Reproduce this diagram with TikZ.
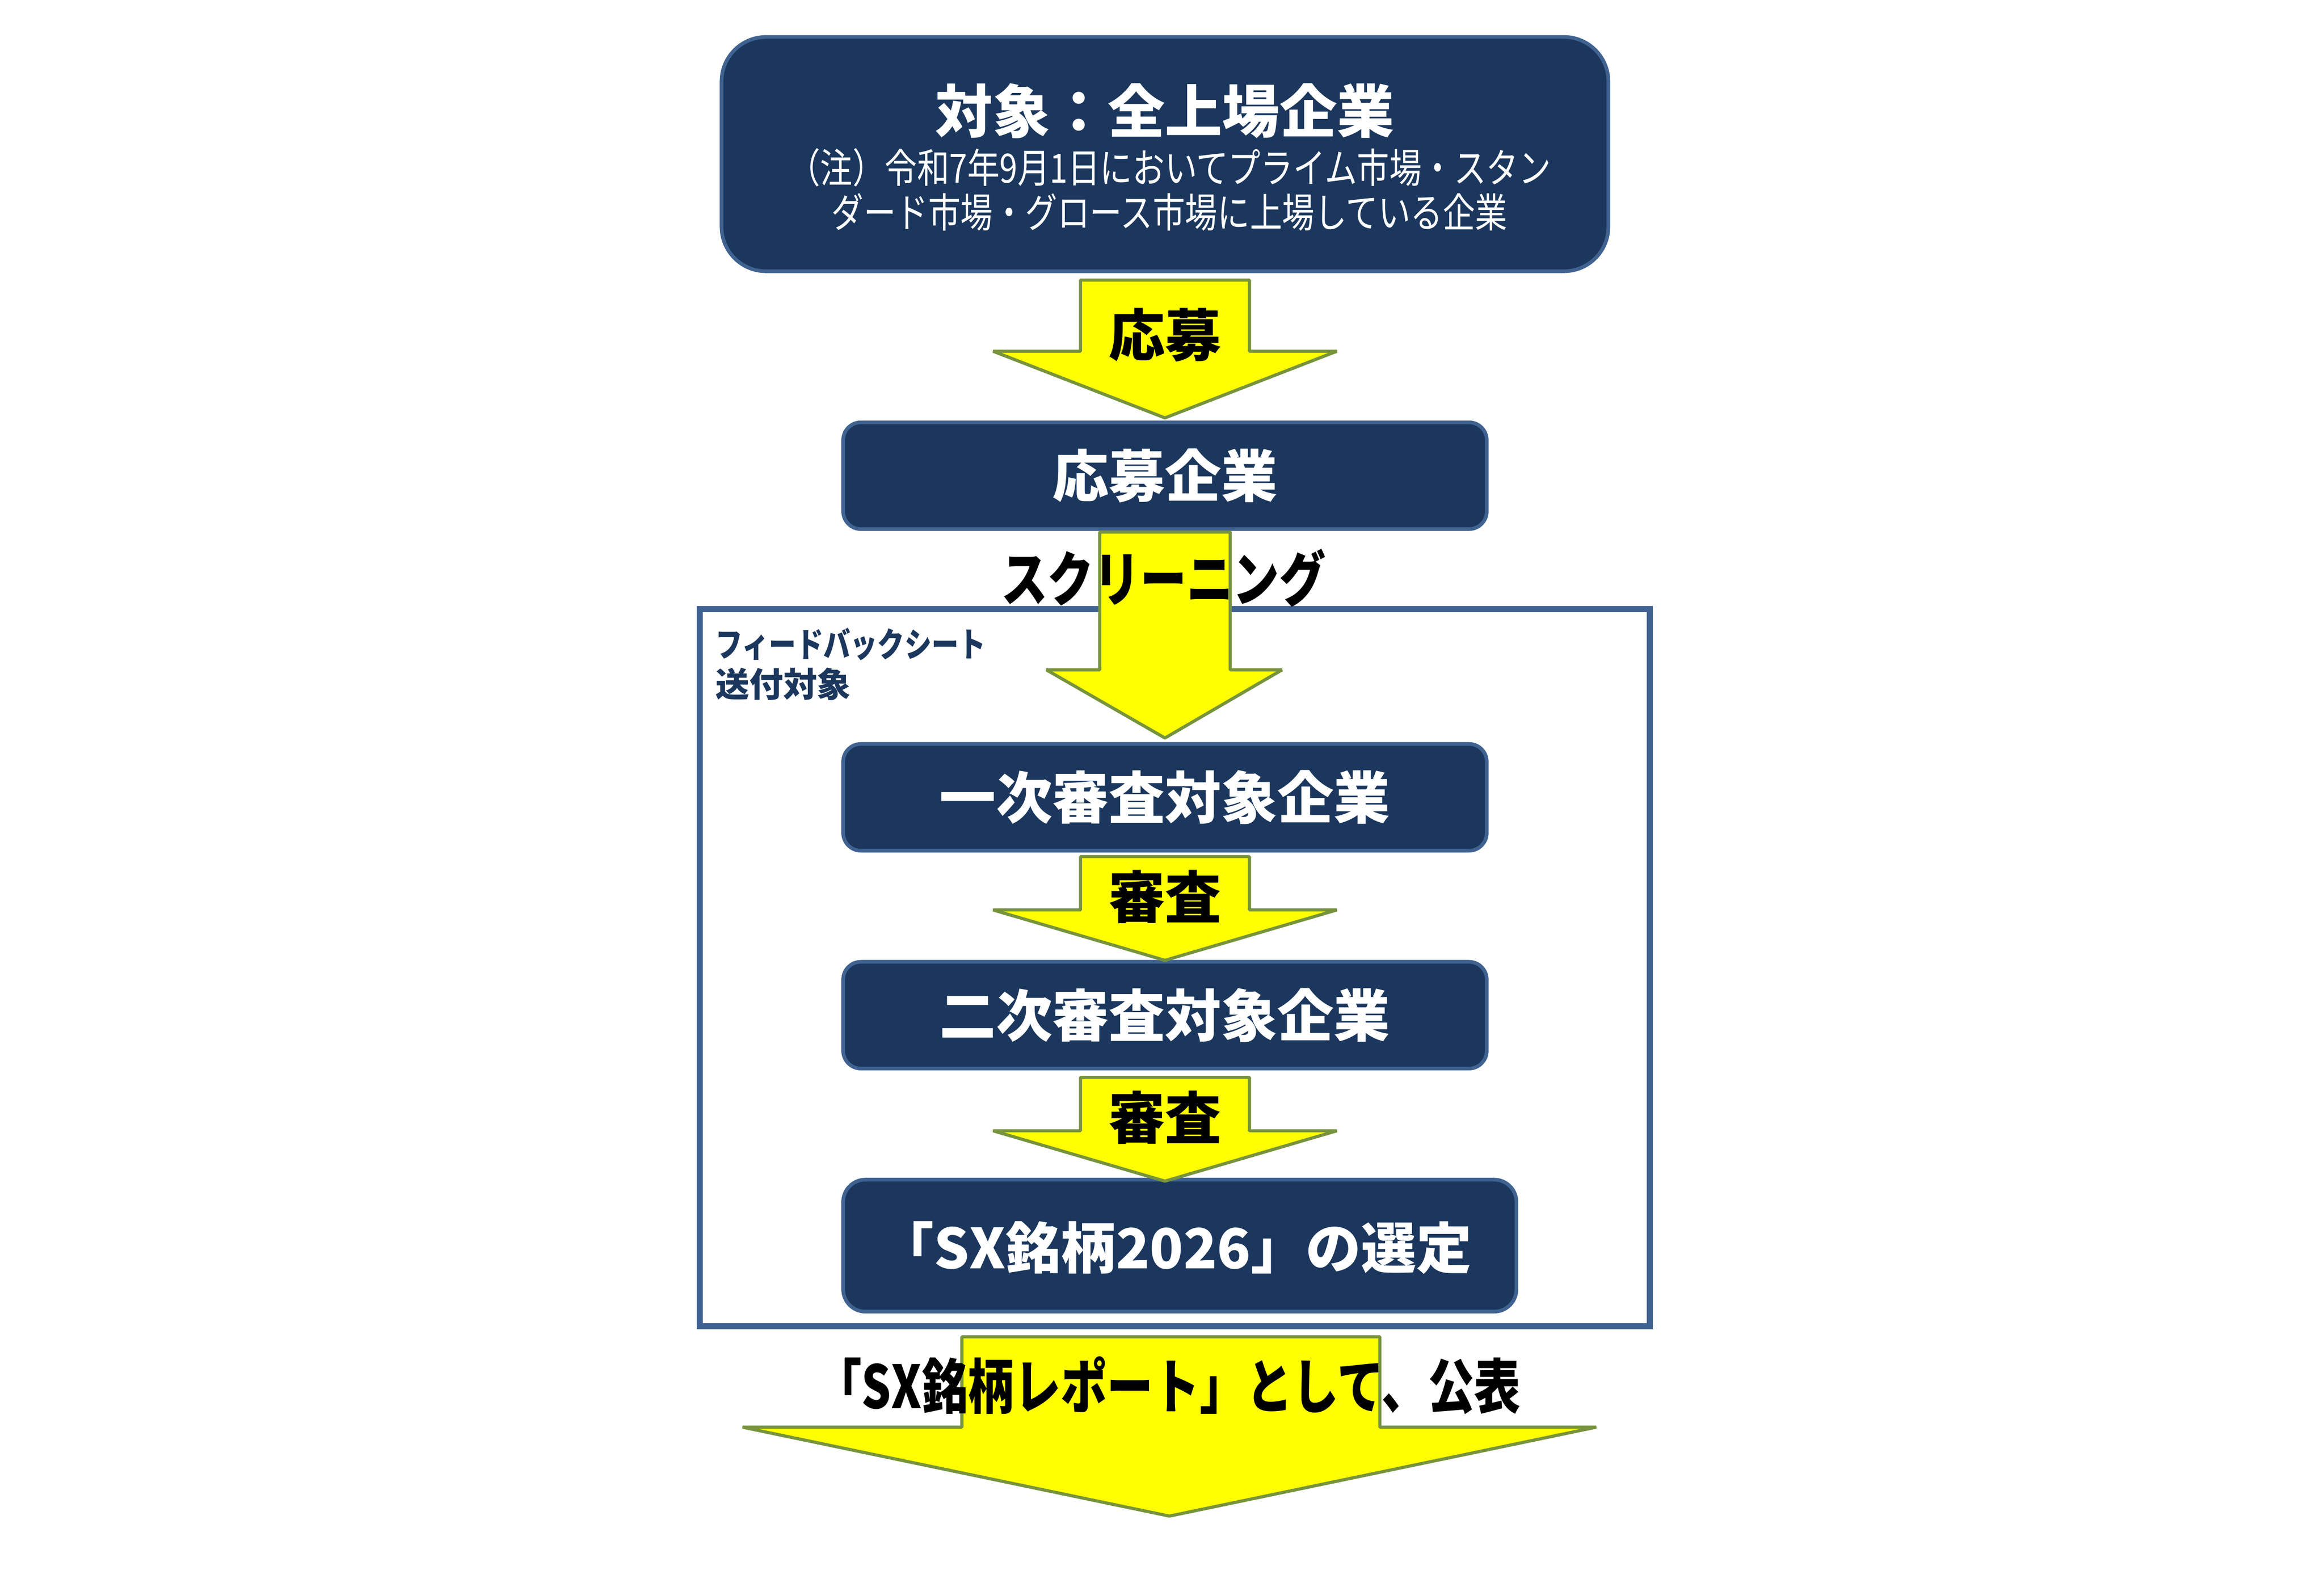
\documentclass[tikz,border=0pt]{standalone}
\usepackage{fontspec}
\newfontfamily\jp{Noto Sans CJK JP}
\newfontfamily\jpc{Noto Sans CJK JP}[FakeStretch=0.8]
\newfontfamily\jpl{Noto Sans CJK JP}[FakeStretch=0.78]
\definecolor{navy}{HTML}{1B375D}
\definecolor{boxline}{HTML}{3F6291}
\definecolor{arrowfill}{HTML}{FFFF00}
\definecolor{arrowline}{HTML}{77933C}
\tikzset{
  box/.style={draw=boxline, line width=0.7pt, fill=navy, rounded corners=0.12cm, inner sep=0pt},
  blockarrow/.style={draw=arrowline, fill=arrowfill, line width=0.6pt, line join=bevel},
  boxtext/.style={text=white, font=\jp\bfseries\fontsize{10.8}{12}\selectfont, inner sep=0pt},
  arrowtext/.style={text=black, font=\jp\bfseries\fontsize{10.8}{12}\selectfont, inner sep=0pt},
  widetext/.style={text=black, font=\jpl\bfseries\fontsize{11.4}{12}\selectfont, inner sep=0pt},
}
\begin{document}
\begin{tikzpicture}[x=0.01cm, y=-0.01cm]
\useasboundingbox[fill=white] (0,0) rectangle (1568,1068);

% frame
\draw[boxline, line width=1.15pt] (472,411) rectangle (1113,895);
\node[anchor=north west, align=left, inner sep=0pt, text=navy,
      font=\bfseries\fontsize{6.5}{7.7}\selectfont] (fb) at (482,423)
      {{\jpc フィードバックシート}\\{\jp 送付対象}};

% boxes
\node[box, minimum width=5.98cm, minimum height=1.58cm, rounded corners=0.3cm] (top) at (786,104) {};
\node[boxtext, font=\jp\bfseries\fontsize{11}{12}\selectfont] (title) at (786,75) {対象：全上場企業};
\node[text=white, align=center, inner sep=0pt, font=\jpc\fontsize{7.75}{8.55}\selectfont] (note) at (789,128)
  {（注）令和7年9月1日においてプライム市場・スタン\\ダード市場・グロース市場に上場している企業};

\node[box, minimum width=4.34cm, minimum height=0.72cm] (b2) at (786,321) {};
\node[boxtext] at (b2) {応募企業};
\node[box, minimum width=4.34cm, minimum height=0.72cm] (b3) at (786,538) {};
\node[boxtext] at (b3) {一次審査対象企業};
\node[box, minimum width=4.34cm, minimum height=0.72cm] (b4) at (786,685) {};
\node[boxtext] at (b4) {二次審査対象企業};
\node[box, minimum width=4.54cm, minimum height=0.89cm, rounded corners=0.15cm] (b5) at (796,840.5) {};
\node[boxtext, font=\jp\bfseries\fontsize{10.6}{12}\selectfont] at (793,842) {「SX銘柄2026」の選定};

% block arrows
\draw[blockarrow] (729,189) -- (843,189) -- (843,237) -- (902,237) -- (786,282) -- (670,237) -- (729,237) -- cycle;
\draw[blockarrow] (742,359) -- (830,359) -- (830,452) -- (865,452) -- (786,498) -- (706,452) -- (742,452) -- cycle;
\draw[blockarrow] (729,578) -- (843,578) -- (843,614) -- (902,614) -- (786,648) -- (670,614) -- (729,614) -- cycle;
\draw[blockarrow] (729,727) -- (843,727) -- (843,763) -- (902,763) -- (786,797) -- (670,763) -- (729,763) -- cycle;
\draw[blockarrow] (649,902) -- (931,902) -- (931,963) -- (1077,963) -- (789,1023) -- (501,963) -- (649,963) -- cycle;

% arrow labels
\node[arrowtext] (l1) at (786,226) {応募};
\node[widetext] (l2) at (785,390) {スクリーニング};
\node[arrowtext] (l3) at (786,605) {審査};
\node[arrowtext] (l4) at (786,754) {審査};
\node[widetext] (l5) at (788,935) {「SX銘柄レポート」として、公表};
\end{tikzpicture}
\end{document}
